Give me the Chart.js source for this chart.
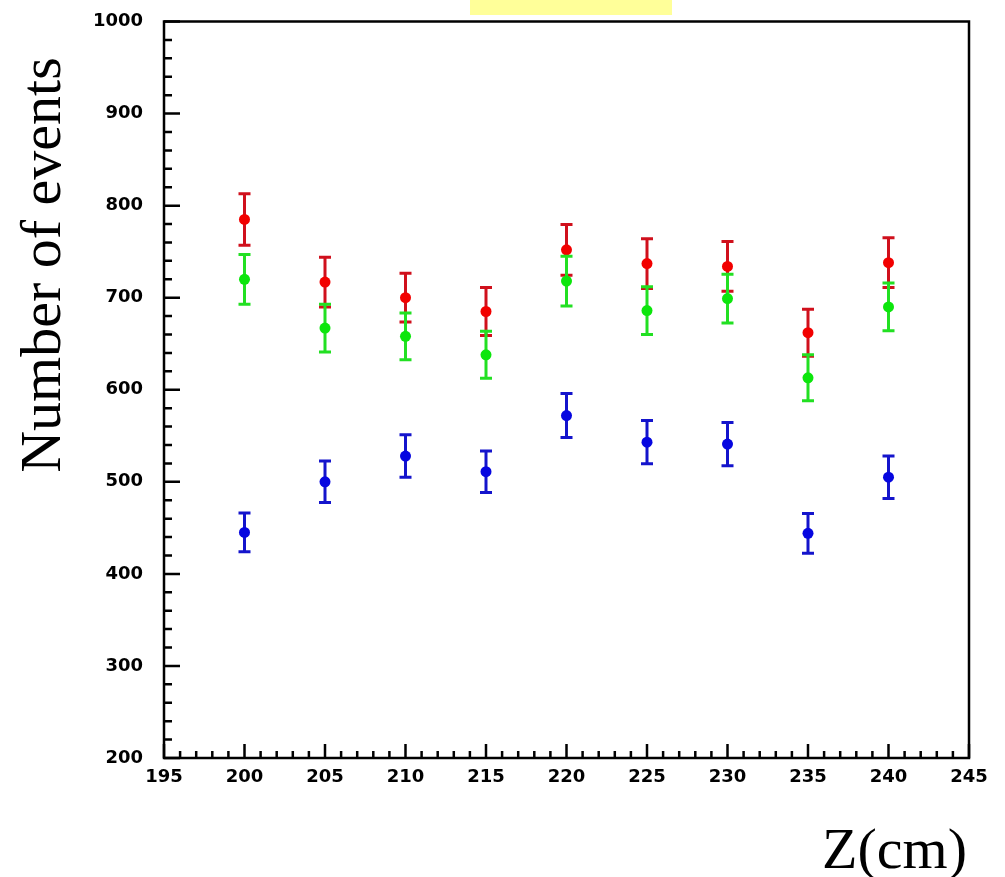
<!DOCTYPE html>
<html>
<head>
<meta charset="utf-8">
<script src="https://cdn.jsdelivr.net/npm/chart.js@4/dist/chart.umd.min.js"></script>
<style>
html,body{margin:0;padding:0;background:#fff;}
canvas{display:block;}
</style>
</head>
<body>
<canvas id="c" width="1005" height="877"></canvas>
<script>
// ---- data ----
const zPositions = [200, 205, 210, 215, 220, 225, 230, 235, 240];
const redValues   = [785, 717, 700, 685, 752, 737, 734, 662, 738];
const redErrors   = [28, 27, 26.5, 26, 27.5, 27, 27, 25.5, 27];
const greenValues = [720, 667, 658, 638, 718, 686, 699, 613, 690];
const greenErrors = [27, 26, 25.5, 25.5, 27, 26, 26.5, 25, 26];
const blueValues  = [445, 500, 528, 511, 572, 543, 541, 444, 505];
const blueErrors  = [21, 22.5, 23, 22.5, 24, 23.5, 23.5, 21.5, 23];
const xTickLabels = [195, 200, 205, 210, 215, 220, 225, 230, 235, 240, 245];
const yTickLabels = [200, 300, 400, 500, 600, 700, 800, 900, 1000];
const yTitle = "Number of events";
const xTitle = "Z(cm)";

function pts(vals){ return zPositions.map((z,i)=>({x:z, y:vals[i]})); }

const series = [
  {label:'red',   data:pts(redValues),   err:redErrors,   pt:'#f20000', bar:'#d0101c', order:3},
  {label:'green', data:pts(greenValues), err:greenErrors, pt:'#0ce60c', bar:'#22e022', order:2},
  {label:'blue',  data:pts(blueValues),  err:blueErrors,  pt:'#0606e0', bar:'#1414cc', order:1}
];

const decorPlugin = {
  id:'decor',
  beforeDraw(chart){
    const ctx = chart.ctx;
    ctx.save();
    ctx.fillStyle = '#fff';
    ctx.fillRect(0,0,chart.width,chart.height);
    ctx.fillStyle = '#ffff99';
    ctx.fillRect(470,0,202,15);
    ctx.restore();
  },
  beforeDatasetDraw(chart, args){
    const ds = chart.data.datasets[args.index];
    const xs = chart.scales.x, ys = chart.scales.y;
    const ctx = chart.ctx;
    ctx.save();
    ctx.strokeStyle = ds.barColor;
    ctx.lineWidth = 3;
    ds.data.forEach((p,i)=>{
      const e = ds.errors[i];
      const px = xs.getPixelForValue(p.x);
      const yt = ys.getPixelForValue(p.y + e);
      const yb = ys.getPixelForValue(p.y - e);
      ctx.beginPath();
      ctx.moveTo(px, yt); ctx.lineTo(px, yb);
      ctx.moveTo(px-6, yt); ctx.lineTo(px+6, yt);
      ctx.moveTo(px-6, yb); ctx.lineTo(px+6, yb);
      ctx.stroke();
    });
    ctx.restore();
  },
  afterDraw(chart){
    const ctx = chart.ctx;
    const a = chart.chartArea;
    const xs = chart.scales.x, ys = chart.scales.y;
    ctx.save();
    ctx.strokeStyle = '#000';
    ctx.lineWidth = 2.5;
    ctx.strokeRect(a.left, a.top, a.right-a.left, a.bottom-a.top);
    ctx.beginPath();
    for (let v = ys.min; v <= ys.max; v += 20){
      const py = ys.getPixelForValue(v);
      const len = (v % 100 === 0) ? 16 : 8;
      ctx.moveTo(a.left, py); ctx.lineTo(a.left+len, py);
    }
    for (let v = xs.min; v <= xs.max; v += 1){
      const px = xs.getPixelForValue(v);
      const len = (v % 5 === 0) ? 14 : 7;
      ctx.moveTo(px, a.bottom); ctx.lineTo(px, a.bottom-len);
    }
    ctx.stroke();
    // axis titles
    ctx.fillStyle = '#000';
    ctx.font = '58px "Liberation Serif", "Times New Roman", serif';
    ctx.textBaseline = 'alphabetic';
    ctx.textAlign = 'right';
    ctx.fillText(xTitle, 967, 868);
    ctx.translate(60, 265);
    ctx.rotate(-Math.PI/2);
    ctx.textAlign = 'center';
    ctx.fillText(yTitle, 0, 0);
    ctx.restore();
  }
};

const tickFont = {family:'"DejaVu Sans", sans-serif', size:18, weight:'bold'};

new Chart(document.getElementById('c'), {
  type:'scatter',
  data:{
    datasets: series.map(s=>({
      label:s.label, data:s.data, errors:s.err, barColor:s.bar, order:s.order,
      backgroundColor:s.pt, borderColor:s.pt, pointRadius:5.5, pointHoverRadius:5.5,
      pointBorderWidth:0, showLine:false
    }))
  },
  options:{
    responsive:false,
    animation:false,
    events:[],
    layout:{padding:{left:0, top:21.5, right:36, bottom:0}},
    plugins:{legend:{display:false}, tooltip:{enabled:false}, title:{display:false}},
    scales:{
      x:{
        type:'linear', min:195, max:245,
        afterBuildTicks(scale){ scale.ticks = xTickLabels.map(v=>({value:v})); },
        afterFit(scale){ scale.height = 119; scale.paddingLeft = 0; scale.paddingRight = 0; },
        grid:{display:false, drawTicks:false},
        border:{display:false},
        ticks:{color:'#000', padding:9, font:tickFont, maxRotation:0, autoSkip:false,
               callback:(v)=>String(v)}
      },
      y:{
        type:'linear', min:200, max:1000,
        afterBuildTicks(scale){ scale.ticks = yTickLabels.map(v=>({value:v})); },
        afterFit(scale){ scale.width = 164; scale.paddingTop = 0; scale.paddingBottom = 0; },
        grid:{display:false, drawTicks:false},
        border:{display:false},
        ticks:{color:'#000', padding:21, font:tickFont, callback:(v)=>String(v)}
      }
    }
  },
  plugins:[decorPlugin]
});
</script>
</body>
</html>
